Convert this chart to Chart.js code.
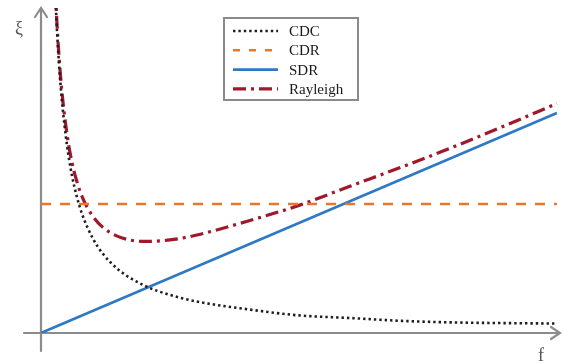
<!DOCTYPE html>
<html>
<head>
<meta charset="utf-8">
<style>
  html, body { margin: 0; padding: 0; background: #ffffff; }
  #wrap { width: 564px; height: 364px; }
</style>
<script src="https://cdn.jsdelivr.net/npm/chart.js@4/dist/chart.umd.min.js"></script>
</head>
<body>
<div id="wrap"><canvas id="c" width="564" height="364"></canvas></div>
<script>
// Frequency samples f and the read-off values of each quantity ξ(f)
const freq     = [0.28, 0.30, 0.35, 0.40, 0.50, 0.60, 0.70, 0.80, 1.0, 1.2, 1.5, 2.0, 2.5, 3.0, 4.0, 5.0, 6.0, 7.0, 8.0, 9.0, 10.0];
const cdc      = [15.3, 14.2, 12.2, 10.7, 8.6, 7.16, 6.15, 5.38, 4.32, 3.6, 2.88, 2.16, 1.73, 1.44, 1.08, 0.8, 0.68, 0.55, 0.48, 0.45, 0.43];
const rayleigh = [15.6, 14.5, 12.55, 11.1, 9.1, 7.76, 6.85, 6.18, 5.32, 4.8, 4.38, 4.16, 4.23, 4.44, 5.08, 5.8, 6.68, 7.55, 8.46, 9.43, 10.43];
const sdrX     = [0, 10];
const sdrY     = [0, 10];
const cdrX     = [0, 10];
const cdrY     = [5.86, 5.86];
const seriesNames = ['CDC', 'CDR', 'SDR', 'Rayleigh'];
const axisNames   = { x: 'f', y: 'ξ' };

const pts = (xs, ys) => xs.map((x, i) => ({ x: x, y: ys[i] }));

// Arrowed axes through the origin
const axesPlugin = {
  id: 'arrowAxes',
  beforeDatasetsDraw(chart) {
    const { ctx, chartArea, scales } = chart;
    const x0 = scales.x.getPixelForValue(0);
    const y0 = scales.y.getPixelForValue(0);
    ctx.save();
    ctx.strokeStyle = '#8c8c8c';
    ctx.lineWidth = 2.2;
    ctx.lineCap = 'round';
    ctx.beginPath();
    // x axis
    ctx.moveTo(x0 - 17, y0);
    ctx.lineTo(chartArea.right, y0);
    ctx.moveTo(chartArea.right - 9, y0 - 6);
    ctx.lineTo(chartArea.right, y0);
    ctx.lineTo(chartArea.right - 9, y0 + 6);
    // y axis
    ctx.moveTo(x0, y0 + 18);
    ctx.lineTo(x0, chartArea.top);
    ctx.moveTo(x0 - 6, chartArea.top + 9);
    ctx.lineTo(x0, chartArea.top);
    ctx.lineTo(x0 + 6, chartArea.top + 9);
    ctx.stroke();

    ctx.fillStyle = '#555555';
    ctx.font = '18px "Liberation Serif", serif';
    ctx.textAlign = 'center';
    ctx.textBaseline = 'middle';
    ctx.fillText(axisNames.y, x0 - 22, chartArea.top + 21);
    ctx.fillText(axisNames.x, chartArea.right - 19, y0 + 23);
    ctx.restore();
  }
};

// Boxed legend inside the plot
const legendBox = {
  id: 'legendBox',
  afterDatasetsDraw(chart) {
    const { ctx } = chart;
    const left = 224, top = 18, w = 134, h = 82;
    ctx.save();
    ctx.fillStyle = '#ffffff';
    ctx.fillRect(left, top, w, h);
    ctx.strokeStyle = '#8a8a8a';
    ctx.lineWidth = 2;
    ctx.strokeRect(left, top, w, h);
    ctx.font = '15px "Liberation Serif", serif';
    ctx.textBaseline = 'middle';
    ctx.textAlign = 'left';
    chart.data.datasets.forEach((ds, i) => {
      const y = top + 13 + i * 19.3;
      ctx.beginPath();
      ctx.setLineDash(ds.legendDash || ds.borderDash || []);
      ctx.strokeStyle = ds.borderColor;
      ctx.lineWidth = ds.borderWidth;
      ctx.moveTo(left + 9, y);
      ctx.lineTo(left + 54, y);
      ctx.stroke();
      ctx.setLineDash([]);
      ctx.fillStyle = '#1a1a1a';
      ctx.fillText(ds.label, left + 65, y + 1);
    });
    ctx.restore();
  }
};

const common = { pointRadius: 0, fill: false, cubicInterpolationMode: 'monotone' };

new Chart(document.getElementById('c'), {
  type: 'line',
  data: {
    datasets: [
      Object.assign({ label: seriesNames[0], data: pts(freq, cdc),
        borderColor: '#1e1e1e', borderWidth: 2.6, borderDash: [2.4, 3] }, common),
      Object.assign({ label: seriesNames[1], data: pts(cdrX, cdrY),
        borderColor: '#e8772e', borderWidth: 2.6, borderDash: [10, 9], legendDash: [7, 9] }, common),
      Object.assign({ label: seriesNames[2], data: pts(sdrX, sdrY),
        borderColor: '#2f78c4', borderWidth: 2.6 }, common),
      Object.assign({ label: seriesNames[3], data: pts(freq, rayleigh),
        borderColor: '#a1172b', borderWidth: 3.2, borderDash: [13, 5, 3, 5] }, common)
    ]
  },
  options: {
    responsive: false,
    animation: false,
    layout: { padding: { left: 41, right: 4, top: 8, bottom: 31 } },
    plugins: { legend: { display: false }, tooltip: { enabled: false } },
    scales: {
      x: { type: 'linear', min: 0, max: 10.06, display: false },
      y: { type: 'linear', min: 0, max: 14.77, display: false }
    }
  },
  plugins: [axesPlugin, legendBox]
});
</script>
</body>
</html>
